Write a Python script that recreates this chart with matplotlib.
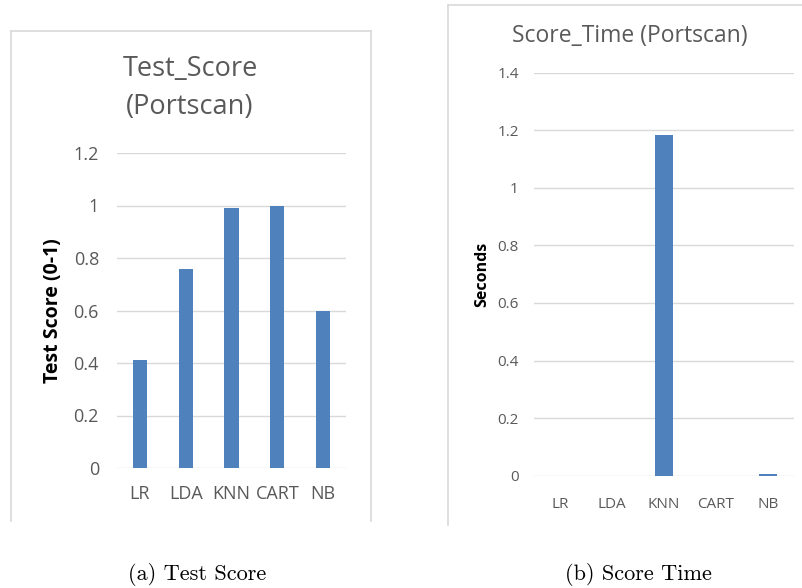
import matplotlib.pyplot as plt
from matplotlib.lines import Line2D

# classifier results on the Portscan data
models = ["LR", "LDA", "KNN", "CART", "NB"]
test_score = [0.41, 0.76, 0.99, 1.00, 0.60]
score_time = [0.0, 0.0, 1.185, 0.0, 0.006]

BLUE = "#4f81bd"
GRID = "#d9d9d9"
TICK = "#595959"
FONT = "Open Sans"

W, H = 803, 588


def fx(px):
    return px / W


def fy(py):
    return 1 - py / H


def frame(fig, x0, x1, y0, y1, right=True):
    # thin grey box around each excel-style chart (bottom left open)
    segs = [((x0, x0), (y0, y1)), ((x0, x1), (y0, y0))]
    if right:
        segs.append(((x1, x1), (y0, y1)))
    for xs, ys in segs:
        fig.add_artist(Line2D([fx(v) for v in xs], [fy(v) for v in ys],
                              color=GRID, lw=1.2, transform=fig.transFigure))


def bar_panel(ax, vals, ymax, step, width, tick_size, ypad, xpad):
    ax.bar(range(len(models)), vals, width=width, color=BLUE, zorder=3)
    ax.set_xlim(-0.5, len(models) - 0.5)
    ax.set_ylim(0, ymax)
    ticks = [round(i * step, 1) for i in range(int(round(ymax / step)) + 1)]
    ax.set_yticks(ticks)
    ax.set_yticklabels([f"{t:g}" for t in ticks])
    ax.set_xticks(range(len(models)))
    ax.set_xticklabels(models)
    ax.grid(axis="y", color=GRID, lw=1, zorder=0)
    for s in ax.spines.values():
        s.set_visible(False)
    ax.tick_params(length=0, colors=TICK, labelsize=tick_size)
    ax.tick_params(axis="y", pad=ypad)
    ax.tick_params(axis="x", pad=xpad)
    for lab in ax.get_xticklabels() + ax.get_yticklabels():
        lab.set_fontfamily(FONT)


fig = plt.figure(figsize=(W / 100, H / 100), dpi=100)

# (a) test score
ax1 = fig.add_axes([fx(117), fy(468), fx(346 - 117), fy(153) - fy(468)])
bar_panel(ax1, test_score, 1.2, 0.2, 0.31, 13, 13, 12)
ax1.set_ylabel("Test Score (0-1)", fontsize=14, fontweight="bold",
               fontfamily=FONT, color="black")
ax1.yaxis.set_label_coords(fx(63 - 117) / fx(229), 0.5)
fig.text(fx(190), fy(88), "Test_Score\n(Portscan)", ha="center", va="center",
         fontsize=19.5, color=TICK, fontfamily=FONT, linespacing=1.45)
frame(fig, 11, 371, 31, 521)

# (b) score time
ax2 = fig.add_axes([fx(534), fy(475.7), fx(260), fy(72.7) - fy(475.7)])
bar_panel(ax2, score_time, 1.4, 0.2, 0.33, 11, 11, 15)
ax2.set_ylabel("Seconds", fontsize=11.5, fontweight="bold", fontfamily=FONT,
               color="black")
ax2.yaxis.set_label_coords(fx(490 - 534) / fx(260), 0.5)
fig.text(fx(630), fy(36), "Score_Time (Portscan)", ha="center", va="center",
         fontsize=16.5, color=TICK, fontfamily=FONT)
frame(fig, 448, 803, 5, 525, right=False)

# subfigure captions
fig.text(fx(197), fy(574), "(a) Test Score", ha="center", va="center",
         fontsize=16, fontfamily="cmr10")
fig.text(fx(638), fy(574), "(b) Score Time", ha="center", va="center",
         fontsize=16, fontfamily="cmr10")

fig.savefig("out.png", dpi=100)
